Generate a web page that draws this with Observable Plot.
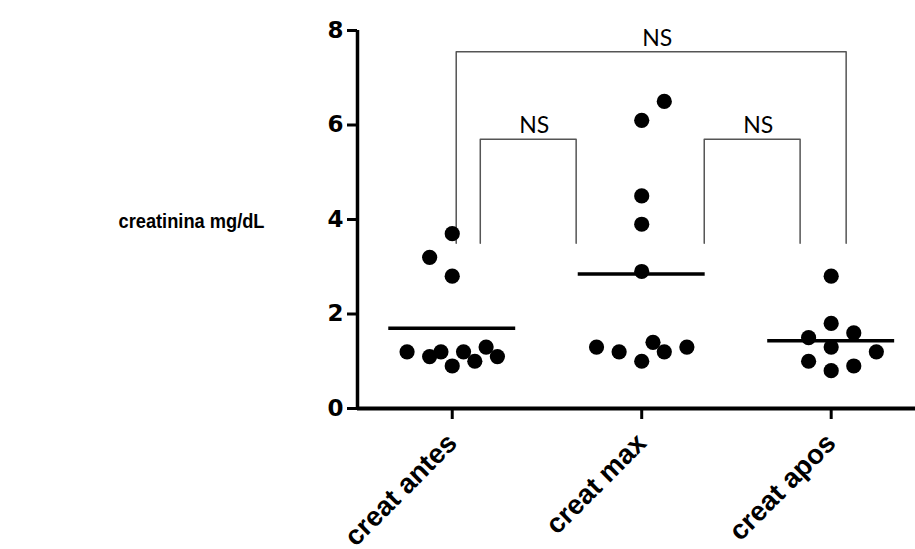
<!DOCTYPE html>
<html>
<head>
<meta charset="utf-8">
<script src="https://cdn.jsdelivr.net/npm/d3@7"></script>
<script src="https://cdn.jsdelivr.net/npm/@observablehq/plot@0.6"></script>
<style>
  html, body { margin: 0; padding: 0; background: #fff; }
  #chart svg { display: block; }
</style>
</head>
<body>
<div id="chart"></div>
<script>
// ---- data ----
const categories = ["creat antes", "creat max", "creat apos"];
const creatAntes = [3.7, 3.2, 2.8, 1.2, 1.1, 1.2, 0.9, 1.2, 1.0, 1.3, 1.1];
const creatAntesCol = [0, -2, 0, -4, -2, -1, 0, 1, 2, 3, 4];
const creatMax = [6.5, 6.1, 4.5, 3.9, 2.9, 1.3, 1.2, 1.0, 1.4, 1.2, 1.3];
const creatMaxCol = [2, 0, 0, 0, 0, -4, -2, 0, 1, 2, 4];
const creatApos = [2.8, 1.8, 1.6, 1.5, 1.3, 1.2, 1.0, 0.9, 0.8];
const creatAposCol = [0, 0, 2, -2, 0, 4, -2, 2, 0];
const yTicks = [0, 2, 4, 6, 8];
const yLabel = "creatinina mg/dL";
const compFrom = [0, 1, 0];
const compTo = [1, 2, 2];
const compLabel = ["NS", "NS", "NS"];
const compTop = [5.7, 5.7, 7.55];
const compLegBottom = 3.5;

// ---- build tables ----
const groups = [creatAntes, creatMax, creatApos];
const cols = [creatAntesCol, creatMaxCol, creatAposCol];
const slot = 0.0596; // horizontal spacing of side-by-side points, in group units
const points = groups.flatMap((vals, i) => vals.map((v, k) => ({i, v, col: cols[i][k]})));
const means = groups.map((vals, i) => ({i, mean: d3.mean(vals)}));

// bracket leg offsets (layout, in group units)
const legOff = [[0.148, -0.346], [0.33, -0.164], [0.021, 0.079]];
const bracketPts = compFrom.flatMap((a, j) => {
  const b = compTo[j];
  const x1 = a + legOff[j][0], x2 = b + legOff[j][1];
  return [
    {j, x: x1, y: compLegBottom},
    {j, x: x1, y: compTop[j]},
    {j, x: x2, y: compTop[j]},
    {j, x: x2, y: compLegBottom}
  ];
});
const bracketLabels = compFrom.map((a, j) => ({
  j, label: compLabel[j], y: compTop[j],
  x: (a + legOff[j][0] + compTo[j] + legOff[j][1]) / 2
}));

const xDomain = [-0.5, 2.445];

const chart = Plot.plot({
  width: 915,
  height: 549,
  marginLeft: 357,
  marginRight: 0,
  marginTop: 30,
  marginBottom: 141,
  style: {fontFamily: "'Liberation Sans', Arial, sans-serif", background: "#fff", color: "#000"},
  x: {type: "linear", domain: xDomain, axis: null},
  y: {domain: [0, 8], axis: null},
  marks: [
    // significance brackets
    Plot.line(bracketPts, {x: "x", y: "y", z: "j", stroke: "#555", strokeWidth: 1.5}),
    Plot.text(bracketLabels, {x: "x", y: "y", text: "label", dx: 6, dy: -6, lineAnchor: "bottom",
      fontFamily: "Lato, 'Open Sans', sans-serif", fontSize: 23, fill: "#000"}),
    // axes lines
    Plot.ruleX([xDomain[0]], {y1: 0, y2: 8, stroke: "#000", strokeWidth: 3.5}),
    Plot.ruleY([0], {stroke: "#000", strokeWidth: 4}),
    Plot.axisY(yTicks, {tickSize: 10, tickPadding: 4, strokeWidth: 3, fontSize: 23,
      fontFamily: "'DejaVu Sans', sans-serif", fontWeight: "bold", label: null, stroke: "#000", fill: "#000"}),
    Plot.axisX(d3.range(categories.length), {
      tickFormat: i => categories[i], tickRotate: -45, tickSize: 11, tickPadding: 19,
      strokeWidth: 3, fontSize: 27.5, fontWeight: "bold", label: null, stroke: "#000", fill: "#000"
    }),
    // mean lines
    Plot.ruleY(means, {x1: d => d.i - 0.335, x2: d => d.i + 0.335, y: "mean", stroke: "#000", strokeWidth: 3.5}),
    // points
    Plot.dot(points, {x: d => d.i + d.col * slot, y: "v", r: 7.6, fill: "#000", stroke: "none"}),
    // y label
    Plot.text([yLabel], {frameAnchor: "left", y: 4, dx: -166, dy: 2, textAnchor: "middle",
      fontSize: 21, fontWeight: "bold", fill: "#000", className: "ylab"})
  ]
});
// condense the y label horizontally, as in the reference
d3.select(chart).selectAll(".ylab text")
  .attr("textLength", 146)
  .attr("lengthAdjust", "spacingAndGlyphs");
document.getElementById("chart").appendChild(chart);
</script>
</body>
</html>
